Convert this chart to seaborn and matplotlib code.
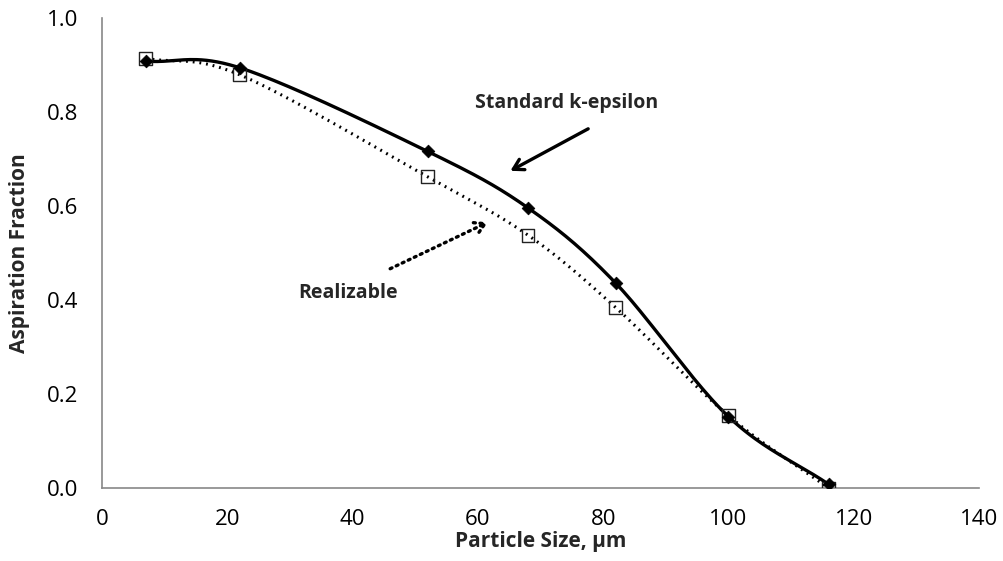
import numpy as np
import pandas as pd
import matplotlib
matplotlib.use("Agg")
import matplotlib.pyplot as plt
import seaborn as sns

particle_size = [7, 22, 52, 68, 82, 100, 116]
standard_keps = [0.908, 0.894, 0.716, 0.596, 0.436, 0.152, 0.008]
realizable = [0.914, 0.879, 0.662, 0.538, 0.384, 0.154, 0.0]

x_ticks = [0, 20, 40, 60, 80, 100, 120, 140]
y_ticks = [0.0, 0.2, 0.4, 0.6, 0.8, 1.0]


def smooth(xs, ys, n=40):
    """Catmull-Rom style smoothing (like Excel's smoothed line)."""
    xs = np.asarray(xs, float)
    ys = np.asarray(ys, float)
    P = np.column_stack([xs, ys])
    P = np.vstack([2 * P[0] - P[1], P, 2 * P[-1] - P[-2]])
    out = []
    for i in range(1, len(P) - 2):
        p0, p1, p2, p3 = P[i - 1], P[i], P[i + 1], P[i + 2]
        c1 = p1 + (p2 - p0) / 6.0
        c2 = p2 - (p3 - p1) / 6.0
        t = np.linspace(0, 1, n)[:, None]
        seg = ((1 - t) ** 3) * p1 + 3 * ((1 - t) ** 2) * t * c1 + 3 * (1 - t) * t ** 2 * c2 + t ** 3 * p2
        out.append(seg if i == 1 else seg[1:])
    S = np.vstack(out)
    return S[:, 0], S[:, 1]


sns.set_theme(style="white")
plt.rcParams["font.family"] = ["Open Sans", "DejaVu Sans"]

fig = plt.figure(figsize=(10.04, 5.61), dpi=100)
ax = fig.add_axes([0.1016, 0.130, 0.8735, 0.838])

sx, sy = smooth(particle_size, standard_keps)
rx, ry = smooth(particle_size, realizable)
df_s = pd.DataFrame({"x": sx, "y": sy})
df_r = pd.DataFrame({"x": rx, "y": ry})

sns.lineplot(data=df_r, x="x", y="y", ax=ax, sort=False, color="black",
             linewidth=2.2, linestyle=(0, (0.6, 1.6)), estimator=None)
sns.lineplot(data=df_s, x="x", y="y", ax=ax, sort=False, color="black",
             linewidth=2.4, estimator=None)

pts = pd.DataFrame({"x": particle_size, "s": standard_keps, "r": realizable})
sns.scatterplot(data=pts, x="x", y="r", ax=ax, marker="s", s=85,
                facecolor="none", edgecolor="#222222", linewidth=1.0, zorder=4)
sns.scatterplot(data=pts, x="x", y="s", ax=ax, marker="D", s=42,
                color="black", edgecolor="black", zorder=5)

ax.set_xlim(0, 140)
ax.set_ylim(0, 1.0)
ax.set_xticks(x_ticks)
ax.set_yticks(y_ticks)
ax.set_xticklabels([str(v) for v in x_ticks])
ax.set_yticklabels([f"{v:.1f}" for v in y_ticks])
ax.tick_params(axis="both", labelsize=16, colors="#888888", labelcolor="black",
               length=6, width=1, direction="out")
ax.tick_params(axis="x", pad=9)
ax.tick_params(axis="y", pad=11)
for side in ["top", "right"]:
    ax.spines[side].set_visible(False)
for side in ["left", "bottom"]:
    ax.spines[side].set_color("#888888")
    ax.spines[side].set_linewidth(1.2)

ax.set_xlabel("Particle Size, μm", fontsize=15, fontweight="bold", labelpad=1)
ax.set_ylabel("Aspiration Fraction", fontsize=15, fontweight="bold", labelpad=12)

ax.text(74.2, 0.819, "Standard k-epsilon", fontsize=14, fontweight="bold",
        ha="center", va="center")
ax.annotate("", xy=(64.8, 0.672), xytext=(78.0, 0.767),
            arrowprops=dict(arrowstyle="->,head_length=0.6,head_width=0.35",
                            color="black", lw=2.4))
ax.text(39.3, 0.415, "Realizable", fontsize=14, fontweight="bold",
        ha="center", va="center")
ax.annotate("", xy=(62.0, 0.568), xytext=(45.6, 0.464),
            arrowprops=dict(arrowstyle="->,head_length=0.6,head_width=0.35",
                            color="black", lw=2.4, linestyle=(0, (0.6, 1.4))))

fig.savefig("out.png", dpi=100)
